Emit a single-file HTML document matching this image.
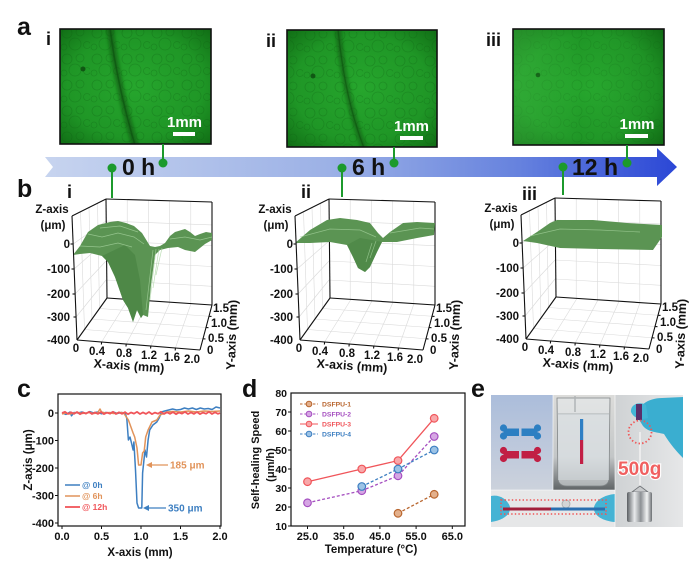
<!DOCTYPE html>
<html><head><meta charset="utf-8"><style>
html,body{margin:0;padding:0;background:#fff;}
svg{display:block;}
</style></head><body>
<svg width="700" height="565" viewBox="0 0 700 565" xmlns="http://www.w3.org/2000/svg" xmlns:xlink="http://www.w3.org/1999/xlink" font-family="Liberation Sans, Arial, sans-serif" font-weight="bold">
<defs>
<radialGradient id="gr" cx=".5" cy=".5" r=".75">
<stop offset="0" stop-color="#26a62d"/><stop offset=".6" stop-color="#1f9626"/><stop offset="1" stop-color="#0e6612"/>
</radialGradient>
<linearGradient id="lite3" x1="0" x2="1" y1="0" y2="0">
<stop offset="0" stop-color="#5fe060" stop-opacity=".28"/><stop offset=".45" stop-color="#5fe060" stop-opacity="0"/><stop offset="1" stop-color="#0a5a0e" stop-opacity=".15"/>
</linearGradient>
<linearGradient id="arrowG" gradientUnits="userSpaceOnUse" x1="45" y1="0" x2="677" y2="0">
<stop offset="0" stop-color="#c7d4ef"/><stop offset=".45" stop-color="#9cb1e6"/><stop offset=".75" stop-color="#6682de"/><stop offset="1" stop-color="#2b47d6"/>
</linearGradient>
<pattern id="cells" width="30" height="26" patternUnits="userSpaceOnUse">
<g fill="none" stroke="#0b5a10" stroke-opacity=".28" stroke-width=".8">
<circle cx="7" cy="7" r="5"/><circle cx="20" cy="6" r="4"/><circle cx="15" cy="18" r="6"/><circle cx="27" cy="19" r="3.5"/><circle cx="4" cy="21" r="3"/>
</g></pattern>
<filter id="bl" x="-20%" y="-20%" width="140%" height="140%"><feGaussianBlur stdDeviation="1.6"/></filter>
<clipPath id="c1"><rect x="60" y="29" width="151" height="115"/></clipPath>
<clipPath id="c2"><rect x="287" y="30" width="150" height="117"/></clipPath>
<clipPath id="c3"><rect x="513" y="29" width="151" height="116"/></clipPath>
<clipPath id="ce"><rect x="491" y="395" width="192" height="132"/></clipPath>
<linearGradient id="bgTL" x1="0" x2="0" y1="0" y2="1"><stop offset="0" stop-color="#abbddb"/><stop offset="1" stop-color="#ccd2dc"/></linearGradient>
<linearGradient id="bgBk" x1="0" x2="0" y1="0" y2="1"><stop offset="0" stop-color="#dcdcda"/><stop offset=".65" stop-color="#c3c6c7"/><stop offset=".85" stop-color="#8a8e90"/><stop offset="1" stop-color="#5f6466"/></linearGradient>
<linearGradient id="bgR" x1="0" x2="1" y1="0" y2="0"><stop offset="0" stop-color="#cfd2d4"/><stop offset="1" stop-color="#e6e7e8"/></linearGradient>
<linearGradient id="metal" x1="0" x2="1" y1="0" y2="0"><stop offset="0" stop-color="#5a5e62"/><stop offset=".3" stop-color="#e8eaec"/><stop offset=".55" stop-color="#8d9195"/><stop offset=".8" stop-color="#f2f3f4"/><stop offset="1" stop-color="#6a6e72"/></linearGradient>
<g id="box">
<g stroke="#dadada" stroke-width=".6" fill="none">
<line x1="127.2" y1="199.6" x2="127.2" y2="299.4"/><line x1="148.4" y1="200.2" x2="148.4" y2="300.8"/><line x1="169.6" y1="200.8" x2="169.6" y2="302.2"/><line x1="190.8" y1="201.4" x2="190.8" y2="303.6"/>
<line x1="106" y1="221" x2="212" y2="224.9"/><line x1="106" y1="241" x2="212" y2="245.7"/><line x1="106" y1="261" x2="212" y2="266.5"/><line x1="106" y1="280" x2="212" y2="286.3"/>
<line x1="73.1" y1="244" x2="106" y2="221"/><line x1="74.1" y1="269" x2="106" y2="241"/><line x1="75.1" y1="294" x2="106" y2="261"/><line x1="76.1" y1="317" x2="106" y2="280"/>
<line x1="80.5" y1="211.75" x2="84.5" y2="329.5"/><line x1="89" y1="207.5" x2="92" y2="319"/><line x1="97.5" y1="203.25" x2="99.5" y2="308.5"/>
<line x1="84.5" y1="329.5" x2="203" y2="338.75"/><line x1="92" y1="319" x2="206" y2="327.5"/><line x1="99.5" y1="308.5" x2="209" y2="316.25"/>
<line x1="101.6" y1="342" x2="128" y2="299.4"/><line x1="126.2" y1="344" x2="149" y2="300.8"/><line x1="150.8" y1="346" x2="170" y2="302.2"/><line x1="175.4" y1="348" x2="191" y2="303.6"/>
</g>
<g stroke="#111" stroke-width="1.1" fill="none">
<line x1="106" y1="199" x2="212" y2="202"/><line x1="212" y1="202" x2="212" y2="305"/><line x1="106" y1="199" x2="107" y2="298"/><line x1="107" y1="298" x2="212" y2="305"/><line x1="77" y1="340" x2="107" y2="298"/>
</g>
</g>
<g id="boxf" stroke="#111" stroke-width="1.1" fill="none">
<line x1="72" y1="216" x2="106" y2="199"/><line x1="72" y1="216" x2="77" y2="340"/><line x1="77" y1="340" x2="200" y2="350"/><line x1="200" y1="350" x2="212" y2="305"/>
<line x1="73.1" y1="244" x2="70.5" y2="244"/><line x1="74.1" y1="269" x2="71.5" y2="269"/><line x1="75.1" y1="294" x2="72.5" y2="294"/><line x1="76.1" y1="317" x2="73.5" y2="317"/>
<line x1="101.6" y1="342" x2="101.4" y2="344.5"/><line x1="126.2" y1="344" x2="126" y2="346.5"/><line x1="150.8" y1="346" x2="150.6" y2="348.5"/><line x1="175.4" y1="348" x2="175.2" y2="350.5"/>
<line x1="203" y1="338.75" x2="205.5" y2="339"/><line x1="206" y1="327.5" x2="208.5" y2="327.7"/><line x1="209" y1="316.25" x2="211.5" y2="316.4"/>
</g>
</defs>

<g font-size="25" fill="#111">
<text x="17" y="35">a</text><text x="17" y="197">b</text><text x="17" y="397">c</text><text x="242" y="397">d</text><text x="471" y="397">e</text>
</g>
<g font-size="18" fill="#111">
<text x="46" y="45">i</text><text x="266" y="47">ii</text><text x="486" y="46">iii</text>
<text x="67" y="198">i</text><text x="301" y="198">ii</text><text x="522" y="200">iii</text>
</g>

<g clip-path="url(#c1)">
<rect x="60" y="29" width="151" height="115" fill="url(#gr)"/>
<rect x="60" y="29" width="151" height="115" fill="url(#cells)"/>
<path d="M110,28 C114,60 121,98 135,145" stroke="#0a4a0d" stroke-width="7" fill="none" opacity=".55" filter="url(#bl)"/>
<path d="M110,28 C114,60 121,98 135,145" stroke="#0a4a0d" stroke-width="1.5" fill="none" opacity=".5"/>
<circle cx="83" cy="69" r="2.5" fill="#0a3d0c" opacity=".7"/>
</g>
<rect x="60" y="29" width="151" height="115" fill="none" stroke="#111" stroke-width="1.6"/>
<g clip-path="url(#c2)">
<rect x="287" y="30" width="150" height="117" fill="url(#gr)"/>
<rect x="287" y="30" width="150" height="117" fill="url(#cells)" transform="translate(3,2)"/>
<path d="M338,29 C342,70 350,112 364,148" stroke="#0a4a0d" stroke-width="6" fill="none" opacity=".5" filter="url(#bl)"/>
<path d="M338,29 C342,70 350,112 364,148" stroke="#0a4a0d" stroke-width="1.3" fill="none" opacity=".45"/>
<circle cx="313" cy="76" r="2.5" fill="#0a3d0c" opacity=".7"/>
</g>
<rect x="287" y="30" width="150" height="117" fill="none" stroke="#111" stroke-width="1.6"/>
<g clip-path="url(#c3)">
<rect x="513" y="29" width="151" height="116" fill="url(#gr)"/>
<rect x="513" y="29" width="151" height="116" fill="url(#cells)" opacity=".7"/>
<rect x="513" y="29" width="151" height="116" fill="url(#lite3)"/>
<circle cx="538" cy="75" r="2.3" fill="#0a3d0c" opacity=".6"/>
</g>
<rect x="513" y="29" width="151" height="116" fill="none" stroke="#111" stroke-width="1.6"/>
<g fill="#fff" font-size="15" text-anchor="middle">
<text x="184.5" y="127">1mm</text><rect x="173" y="132" width="22" height="4"/>
<text x="411.5" y="131">1mm</text><rect x="400" y="136" width="23" height="4"/>
<text x="637" y="129">1mm</text><rect x="625" y="134" width="23" height="4"/>
</g>

<path d="M45,157 L657,157 L657,148 L677,167 L657,186 L657,177 L45,177 L53,167 Z" fill="url(#arrowG)"/>
<g stroke="#1c9a2c" stroke-width="2" fill="#1c9a2c">
<line x1="163" y1="144" x2="163" y2="163"/><circle cx="163" cy="163" r="4.5" stroke="none"/>
<line x1="394" y1="147" x2="394" y2="163"/><circle cx="394" cy="163" r="4.5" stroke="none"/>
<line x1="627" y1="145" x2="627" y2="163"/><circle cx="627" cy="163" r="4.5" stroke="none"/>
<line x1="112" y1="168" x2="112" y2="198"/><circle cx="112" cy="168" r="4.5" stroke="none"/>
<line x1="342" y1="168" x2="342" y2="197"/><circle cx="342" cy="168" r="4.5" stroke="none"/>
<line x1="563" y1="167" x2="563" y2="195"/><circle cx="563" cy="167" r="4.5" stroke="none"/>
</g>
<g font-size="23" fill="#111">
<text x="122" y="175">0 h</text><text x="352" y="175">6 h</text><text x="572" y="175">12 h</text>
</g>

<use xlink:href="#box"/>
<use xlink:href="#box" transform="translate(223,0)"/>
<use xlink:href="#box" transform="translate(449,-1)"/>

<path d="M73,255 L80,246 L88,232 L98,225 L110,222 L118,221 L126,223 L134,226 L142,233 L150,246 L155,247 L160,246 L165,243 L170,236 L175,232 L185,229 L190,232 L195,236 L200,234 L206,232 L212,233 L212,240 L205,244 L195,252 L185,250 L178,247 L168,248 L160,250 L155,255 L151,285 L148,317 L143,315 L141,318 L137,310 L133,322 L128,308 L123,300 L115,277 L108,262 L102,256 L90,253 L80,254 Z" fill="#5b9453"/>
<path d="M102,256 L108,262 L115,277 L123,300 L128,308 L133,322 L137,310 L141,318 L143,315 L140,280 L135,255 L125,245 Z" fill="#4b8445" opacity=".8"/>
<g stroke="#a8d4a0" stroke-width=".7" fill="none" opacity=".75">
<path d="M88,234 L102,237 L118,233 L134,237 L144,244"/><path d="M80,246 L100,247 L118,243 L132,247"/>
<path d="M156,249 L150,300"/><path d="M153,250 L146,310"/><path d="M159,249 L153,288"/><path d="M162,248 L156,275"/>
<path d="M170,239 L185,237 L200,240 L212,237"/><path d="M100,228 L120,226 L138,232"/>
</g>
<path d="M295,243 L310,230 L327,220 L340,218 L357,220 L370,223 L378,233 L383,238 L390,232 L403,223 L417,222 L435,223 L434,235 L417,238 L397,242 L382,242 L377,252 L370,267 L365,272 L358,268 L353,257 L347,245 L330,242 L310,243 Z" fill="#5b9453"/>
<path d="M347,245 L353,257 L358,268 L365,272 L370,267 L377,252 L382,242 L372,240 L360,238 Z" fill="#4d8747" opacity=".8"/>
<g stroke="#a8d4a0" stroke-width=".7" fill="none" opacity=".7">
<path d="M300,237 L330,229 L360,230 L376,237"/><path d="M390,233 L420,228 L434,229"/><path d="M372,243 L366,262"/><path d="M376,241 L370,258"/>
</g>
<path d="M523,241 L537,232 L550,223 L557,220 L593,220 L627,223 L662,225 L662,237 L653,250 L600,249 L560,248 L537,243 Z" fill="#5b9453"/>
<g stroke="#a8d4a0" stroke-width=".7" fill="none" opacity=".7">
<path d="M530,236 L560,229 L600,230 L640,232"/>
</g>

<use xlink:href="#boxf"/>
<use xlink:href="#boxf" transform="translate(223,0)"/>
<use xlink:href="#boxf" transform="translate(449,-1)"/>

<g font-size="11.5" fill="#111">
<text x="52" y="213" text-anchor="middle">Z-axis</text><text x="53" y="229" text-anchor="middle">(μm)</text>
<g text-anchor="end"><text x="70" y="248">0</text><text x="70" y="273">-100</text><text x="70" y="298">-200</text><text x="70" y="321">-300</text><text x="70" y="344">-400</text></g>
<g text-anchor="middle"><text x="76" y="352">0</text><text x="97" y="355">0.4</text><text x="124" y="357">0.8</text><text x="149" y="359">1.2</text><text x="172" y="361">1.6</text><text x="192" y="363">2.0</text></g>
<text x="207" y="354">0</text><text x="208" y="342">0.5</text><text x="211" y="327">1.0</text><text x="213" y="312">1.5</text>
<text x="129" y="370" text-anchor="middle" font-size="12.5" transform="rotate(4,129,366)">X-axis (mm)</text>
<text text-anchor="middle" font-size="12.5" transform="translate(236,335) rotate(-88)">Y-axis (mm)</text>
</g>
<g font-size="11.5" fill="#111" transform="translate(223,0)">
<text x="52" y="213" text-anchor="middle">Z-axis</text><text x="53" y="229" text-anchor="middle">(μm)</text>
<g text-anchor="end"><text x="70" y="248">0</text><text x="70" y="273">-100</text><text x="70" y="298">-200</text><text x="70" y="321">-300</text><text x="70" y="344">-400</text></g>
<g text-anchor="middle"><text x="76" y="352">0</text><text x="97" y="355">0.4</text><text x="124" y="357">0.8</text><text x="149" y="359">1.2</text><text x="172" y="361">1.6</text><text x="192" y="363">2.0</text></g>
<text x="207" y="354">0</text><text x="208" y="342">0.5</text><text x="211" y="327">1.0</text><text x="213" y="312">1.5</text>
<text x="129" y="370" text-anchor="middle" font-size="12.5" transform="rotate(4,129,366)">X-axis (mm)</text>
<text text-anchor="middle" font-size="12.5" transform="translate(236,335) rotate(-88)">Y-axis (mm)</text>
</g>
<g font-size="11.5" fill="#111" transform="translate(449,-1)">
<text x="52" y="213" text-anchor="middle">Z-axis</text><text x="53" y="229" text-anchor="middle">(μm)</text>
<g text-anchor="end"><text x="70" y="248">0</text><text x="70" y="273">-100</text><text x="70" y="298">-200</text><text x="70" y="321">-300</text><text x="70" y="344">-400</text></g>
<g text-anchor="middle"><text x="76" y="352">0</text><text x="97" y="355">0.4</text><text x="124" y="357">0.8</text><text x="149" y="359">1.2</text><text x="172" y="361">1.6</text><text x="192" y="363">2.0</text></g>
<text x="207" y="354">0</text><text x="208" y="342">0.5</text><text x="211" y="327">1.0</text><text x="213" y="312">1.5</text>
<text x="129" y="370" text-anchor="middle" font-size="12.5" transform="rotate(4,129,366)">X-axis (mm)</text>
<text text-anchor="middle" font-size="12.5" transform="translate(236,335) rotate(-88)">Y-axis (mm)</text>
</g>

<g fill="none" stroke-linejoin="round">
<polyline stroke="#3d7fc1" stroke-width="1.5" points="62,413 66,414.4 70,412 71.5,415.8 74,412.5 78,413 82,412 86,413.5 89.7,411.6 93.6,413 97.5,412 101.5,413.8 105.5,412.5 109.4,413 113.4,412 117.3,413.5 121.3,412.5 125.2,413 126.8,418.5 128.4,440 130,437 131.5,443 133.1,450 133.9,442 135.5,470 137,503 138.6,508 141.8,508 142.6,473 145,450 146.5,457 148.1,440 149.7,430 152.9,425 156.8,422 159.2,418 161.5,412 164.7,411 168.7,410 172.6,409 176.6,410 180.5,409.5 184.5,408 188.4,409 192.4,408 196.3,409.5 200.3,408 204.2,409 208.2,408.5 212.1,409.5 216,407 220,408"/>
<polyline stroke="#e1935a" stroke-width="1.5" points="62,414 66,413 70,414 74,413 78,412.5 82,413.5 86,413 89.7,412.5 93.6,413.5 97.5,413 100,409 101.5,412 105.5,413 109.4,412.5 113.4,413.5 117.3,413 121.3,412.5 123.6,413 128.4,420 133.1,433 134.7,437 137,448 138.6,465 141,465 142.6,453 144.2,451 145.7,437 148.1,430 152,422 156.8,420 160,415 167,412 172.6,411.5 180.5,412 188.4,411 196.3,412 204.2,411 212.1,411.5 220,411"/>
<polyline stroke="#f0555a" stroke-width="1.8" points="62,413 65,411.8 68,414 71,412.3 74,413.8 77,412 80,414.2 83,412.5 86,413.6 89,411.9 92,414 95,412.4 98,413.9 101,412 104,414.1 107,412.6 110,413.7 113,411.8 116,414 119,412.3 122,413.8 125,412.1 128,414.2 131,412.5 134,413.6 137,411.9 140,414 143,412.4 146,413.9 149,412 152,414.1 155,412.6 158,413.7 161,411.8 164,414 167,412.3 170,413.8 173,412.1 176,414.2 179,412.5 182,413.6 185,411.9 188,414 191,412.4 194,413.9 197,412 200,414.1 203,412.6 206,413.7 209,411.8 212,414 215,412.3 218,413.8 220,413"/>
</g>
<rect x="58" y="394" width="163" height="132" fill="none" stroke="#111" stroke-width="1.2"/>
<g stroke="#111" stroke-width="1">
<line x1="58" y1="413" x2="55" y2="413"/><line x1="58" y1="440.5" x2="55" y2="440.5"/><line x1="58" y1="468" x2="55" y2="468"/><line x1="58" y1="495.5" x2="55" y2="495.5"/><line x1="58" y1="523" x2="55" y2="523"/>
<line x1="62" y1="526" x2="62" y2="529"/><line x1="101.5" y1="526" x2="101.5" y2="529"/><line x1="141" y1="526" x2="141" y2="529"/><line x1="180.5" y1="526" x2="180.5" y2="529"/><line x1="220" y1="526" x2="220" y2="529"/>
</g>
<g font-size="11" fill="#111">
<g text-anchor="end"><text x="54" y="417">0</text><text x="54" y="444.5">-100</text><text x="54" y="472">-200</text><text x="54" y="499.5">-300</text><text x="54" y="527">-400</text></g>
<g text-anchor="middle"><text x="62" y="540">0.0</text><text x="101.5" y="540">0.5</text><text x="141" y="540">1.0</text><text x="180.5" y="540">1.5</text><text x="220" y="540">2.0</text></g>
<text x="140" y="556" text-anchor="middle" font-size="11.5">X-axis (mm)</text>
<text text-anchor="middle" font-size="11.5" transform="translate(28,460) rotate(-90)" y="4">Z-axis (μm)</text>
</g>
<g font-size="8.5">
<line x1="65" y1="485" x2="80" y2="485" stroke="#3d7fc1" stroke-width="1.5"/><text x="82" y="488" fill="#3d7fc1">@ 0h</text>
<line x1="65" y1="496" x2="80" y2="496" stroke="#e1935a" stroke-width="1.5"/><text x="82" y="499" fill="#e1935a">@ 6h</text>
<line x1="65" y1="507" x2="80" y2="507" stroke="#f0555a" stroke-width="1.8"/><text x="82" y="510" fill="#f0555a">@ 12h</text>
</g>
<g font-size="10">
<line x1="168" y1="465" x2="151" y2="465" stroke="#e1935a" stroke-width="1.3"/><path d="M146,465 L152,462 L152,468 Z" fill="#e1935a"/>
<text x="170" y="468.5" fill="#e1935a">185 μm</text>
<line x1="166" y1="508" x2="148" y2="508" stroke="#3d7fc1" stroke-width="1.3"/><path d="M143,508 L149,505 L149,511 Z" fill="#3d7fc1"/>
<text x="168" y="511.5" fill="#3d7fc1">350 μm</text>
</g>

<g fill="none" stroke-width="1.3">
<polyline points="398,513.3 434.2,494.3" stroke="#b8652e" stroke-dasharray="3,2"/>
<polyline points="307.5,502.8 361.8,490.7 398,475.8 434.2,436.5" stroke="#a54fc0" stroke-dasharray="3,2"/>
<polyline points="307.5,481.7 361.8,469 398,460.6 434.2,418.3" stroke="#f0555a"/>
<polyline points="361.8,486.5 398,469 434.2,450" stroke="#3d7fc1" stroke-dasharray="3,2"/>
</g>
<g stroke-width="1.2">
<g fill="#e3b08c" stroke="#b8652e"><circle cx="398" cy="513.3" r="3.8"/><circle cx="434.2" cy="494.3" r="3.8"/></g>
<g fill="#d6a6e4" stroke="#a54fc0"><circle cx="307.5" cy="502.8" r="3.8"/><circle cx="361.8" cy="490.7" r="3.8"/><circle cx="398" cy="475.8" r="3.8"/><circle cx="434.2" cy="436.5" r="3.8"/></g>
<g fill="#f8a8aa" stroke="#f0555a"><circle cx="307.5" cy="481.7" r="3.8"/><circle cx="361.8" cy="469" r="3.8"/><circle cx="398" cy="460.6" r="3.8"/><circle cx="434.2" cy="418.3" r="3.8"/></g>
<g fill="#9cc3e6" stroke="#3d7fc1"><circle cx="361.8" cy="486.5" r="3.8"/><circle cx="398" cy="469" r="3.8"/><circle cx="434.2" cy="450" r="3.8"/></g>
</g>
<rect x="291" y="393" width="174" height="133" fill="none" stroke="#111" stroke-width="1.2"/>
<g stroke="#111" stroke-width="1">
<line x1="291" y1="507" x2="288" y2="507"/><line x1="291" y1="488" x2="288" y2="488"/><line x1="291" y1="469" x2="288" y2="469"/><line x1="291" y1="450" x2="288" y2="450"/><line x1="291" y1="431" x2="288" y2="431"/><line x1="291" y1="412" x2="288" y2="412"/><line x1="291" y1="526" x2="288" y2="526"/>
<line x1="307.5" y1="526" x2="307.5" y2="529"/><line x1="343.7" y1="526" x2="343.7" y2="529"/><line x1="379.9" y1="526" x2="379.9" y2="529"/><line x1="416.1" y1="526" x2="416.1" y2="529"/><line x1="452.3" y1="526" x2="452.3" y2="529"/>
</g>
<g font-size="10.5" fill="#111">
<g text-anchor="end"><text x="287" y="397">80</text><text x="287" y="416">70</text><text x="287" y="435">60</text><text x="287" y="454">50</text><text x="287" y="473">40</text><text x="287" y="492">30</text><text x="287" y="511">20</text><text x="287" y="530">10</text></g>
<g text-anchor="middle" font-size="11"><text x="307.5" y="540">25.0</text><text x="343.7" y="540">35.0</text><text x="379.9" y="540">45.0</text><text x="416.1" y="540">55.0</text><text x="452.3" y="540">65.0</text></g>
<text x="371" y="553" text-anchor="middle" font-size="11.5">Temperature (°C)</text>
<text text-anchor="middle" font-size="11" transform="translate(255,460) rotate(-90)" y="4">Self-healing Speed</text>
<text text-anchor="middle" font-size="11" transform="translate(270,465) rotate(-90)" y="4">(μm/h)</text>
</g>
<g font-size="6.8">
<line x1="300" y1="404" x2="318" y2="404" stroke="#b8652e" stroke-width="1.1" stroke-dasharray="2.5,1.8"/><circle cx="309" cy="404" r="2.8" fill="#e3b08c" stroke="#b8652e" stroke-width="1"/><text x="322" y="406.5" fill="#b8652e">DSFPU-1</text>
<line x1="300" y1="414" x2="318" y2="414" stroke="#a54fc0" stroke-width="1.1" stroke-dasharray="2.5,1.8"/><circle cx="309" cy="414" r="2.8" fill="#d6a6e4" stroke="#a54fc0" stroke-width="1"/><text x="322" y="416.5" fill="#a54fc0">DSFPU-2</text>
<line x1="300" y1="424" x2="318" y2="424" stroke="#f0555a" stroke-width="1.1"/><circle cx="309" cy="424" r="2.8" fill="#f8a8aa" stroke="#f0555a" stroke-width="1"/><text x="322" y="426.5" fill="#f0555a">DSFPU-3</text>
<line x1="300" y1="434" x2="318" y2="434" stroke="#3d7fc1" stroke-width="1.1" stroke-dasharray="2.5,1.8"/><circle cx="309" cy="434" r="2.8" fill="#9cc3e6" stroke="#3d7fc1" stroke-width="1"/><text x="322" y="436.5" fill="#3d7fc1">DSFPU-4</text>
</g>

<g clip-path="url(#ce)">
<rect x="491" y="395" width="62" height="95" fill="url(#bgTL)"/>
<g fill="#2c7fc2">
<circle cx="503.5" cy="428" r="3.6"/><circle cx="503.5" cy="436" r="3.6"/><rect x="503.5" y="428.5" width="15.5" height="7.5"/>
<circle cx="537.5" cy="428" r="3.6"/><circle cx="537.5" cy="436" r="3.6"/><rect x="521.5" y="428.5" width="16" height="7.5"/>
</g>
<g fill="#c11f44">
<circle cx="503.5" cy="450.5" r="3.6"/><circle cx="503.5" cy="458.5" r="3.6"/><rect x="503.5" y="451" width="15.5" height="7.5"/>
<circle cx="537.5" cy="450.5" r="3.6"/><circle cx="537.5" cy="458.5" r="3.6"/><rect x="521.5" y="451" width="16" height="7.5"/>
</g>
<rect x="553" y="395" width="62" height="95" fill="url(#bgBk)"/>
<path d="M557,398 L610,398 L609,478 Q609,486 600,486 L567,486 Q558,486 558,478 Z" fill="#e8ebec" fill-opacity=".55" stroke="#7f8486" stroke-width=".8"/>
<line x1="558" y1="414" x2="609" y2="414" stroke="#9aa0a3" stroke-width=".8"/>
<rect x="558" y="414" width="51" height="66" fill="#d6dcdf" opacity=".5"/>
<line x1="575" y1="396" x2="575" y2="412" stroke="#b0b4b6" stroke-width="1.5"/>
<rect x="580" y="419" width="3.2" height="21" fill="#2f7fc4"/>
<rect x="580" y="440" width="3.2" height="24" fill="#c21f45"/>
<rect x="615" y="395" width="68" height="132" fill="url(#bgR)"/>
<path d="M638,418 C636,406 648,398 662,398 L683,397 L683,458 C677,452 670,444 664,434 C656,432 648,432 643,426 Z" fill="#3aaed0"/>
<path d="M631,412 C630,404 640,401 646,405 L648,418 C642,420 634,419 631,412 Z" fill="#43b6d6"/>
<rect x="636" y="404" width="6" height="16" fill="#5a2f6a"/>
<line x1="640" y1="432" x2="640" y2="490" stroke="#f4f4f4" stroke-width="1.4"/>
<circle cx="640" cy="432" r="11.5" fill="none" stroke="#f05555" stroke-width="1.8" stroke-dasharray="1.4,2.2"/>
<path d="M632,492 L640,486 L648,492 Z" fill="#c8cacc" stroke="#6d7175" stroke-width=".8"/>
<rect x="627" y="492" width="25" height="30" rx="2" fill="url(#metal)"/>
<text x="618" y="475" font-size="19" fill="#f06060" stroke="#fff" stroke-width="2.2" paint-order="stroke">500g</text>
<rect x="491" y="490" width="124" height="37" fill="#e6e7e8"/>
<path d="M491,496 C500,494 508,500 510,507 C511,514 504,520 491,522 Z" fill="#45b3d4"/>
<path d="M615,494 C604,495 596,500 594,507 C593,515 602,521 615,522 Z" fill="#45b3d4"/>
<circle cx="566" cy="504" r="4" fill="#d2d4d6" stroke="#a5a9ab" stroke-width=".8"/>
<line x1="503" y1="509" x2="551" y2="509" stroke="#a1203b" stroke-width="3"/>
<line x1="551" y1="509" x2="605" y2="509" stroke="#2a6fb0" stroke-width="3"/>
<rect x="501" y="500" width="105" height="14" fill="none" stroke="#f05555" stroke-width="1.6" stroke-dasharray="1.4,2.2"/>
<line x1="553" y1="395" x2="553" y2="490" stroke="#fff" stroke-width=".6"/>
<line x1="615" y1="395" x2="615" y2="527" stroke="#fff" stroke-width=".6"/>
<line x1="491" y1="490" x2="615" y2="490" stroke="#fff" stroke-width=".6"/>
</g>
</svg>
</body></html>
